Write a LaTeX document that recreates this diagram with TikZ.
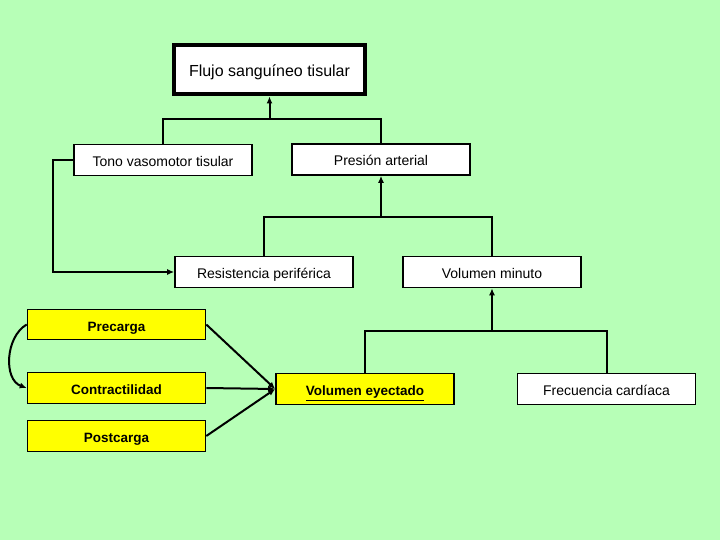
\documentclass[tikz,border=0pt]{standalone}
\usepackage{fontspec}
\setmainfont{Liberation Sans}
\usetikzlibrary{arrows.meta}
\definecolor{fondo}{RGB}{183,255,183}
\definecolor{amarillo}{RGB}{255,255,0}
\tikzset{
  caja/.style={draw,line width=1.6pt,fill=white,minimum width=178pt,minimum height=31pt,
    inner sep=0pt,text height=15pt,text depth=2pt,font=\fontsize{14}{16}\selectfont},
  cajaam/.style={caja,fill=amarillo,font=\fontsize{13.5}{16}\selectfont\bfseries},
  linea/.style={line width=2pt},
  flecha/.style={linea,-{Latex[length=7pt,width=6pt]}}
}
\begin{document}
\begin{tikzpicture}[x=1pt,y=-1pt]
\fill[fondo] (0,0) rectangle (720,540);
\useasboundingbox (0,0) rectangle (720,540);
% cajas
\node[caja,line width=4pt,minimum width=191pt,minimum height=49pt,font=\fontsize{16}{18}\selectfont] (flujo) at (269.5,70) {Flujo sanguíneo tisular};
\node[caja] (tono) at (163,160) {Tono vasomotor tisular};
\node[caja] (presion) at (381,159.5) {Presión arterial};
\node[caja] (resist) at (264,272) {Resistencia periférica};
\node[caja] (volmin) at (492,272) {Volumen minuto};
\node[cajaam,minimum height=30pt] (precarga) at (116.5,324.5) {Precarga};
\node[cajaam] (contract) at (116.5,388) {Contractilidad};
\node[cajaam] (postcarga) at (116.5,436) {Postcarga};
\node[cajaam] (voleyec) at (365,389) {\underline{Volumen eyectado}};
\node[caja] (frec) at (606.5,389) {Frecuencia cardíaca};
% uniones
\coordinate (j1) at (269.5,119);
\coordinate (j2) at (381,217);
\coordinate (j3) at (492,331);
\draw[linea] (tono.north) |- (j1) -| (presion.north);
\draw[flecha] (j1) -- (flujo.south);
\draw[linea] (resist.north) |- (j2) -| (volmin.north);
\draw[flecha] (j2) -- (presion.south);
\draw[linea] (voleyec.north) |- (j3) -| (frec.north);
\draw[flecha] (j3) -- (volmin.south);
\draw[flecha] (tono.west) -| (53,230) |- (resist.west);
\draw[flecha] (precarga.east) -- (voleyec.west);
\draw[flecha] (contract.east) -- (voleyec.west);
\draw[flecha] (postcarga.east) -- (voleyec.west);
\draw[flecha] (precarga.west) to[out=210,in=160] (contract.west);
\end{tikzpicture}
\end{document}
